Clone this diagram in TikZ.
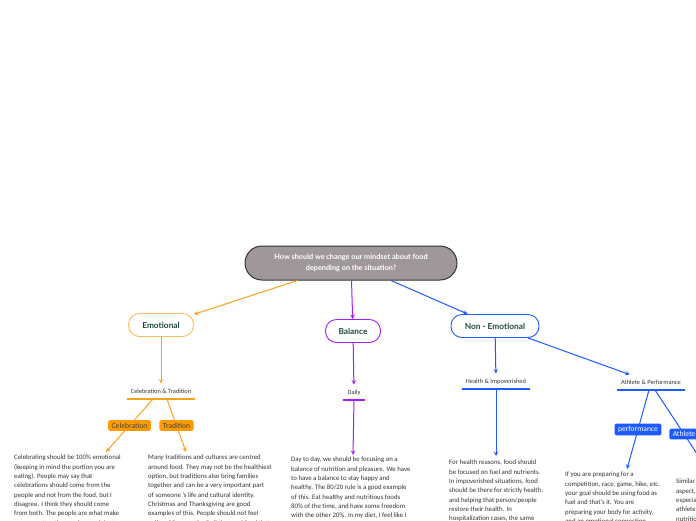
\documentclass[tikz,border=0pt]{standalone}
\usepackage{fontspec}
\setmainfont{Carlito}
\newfontfamily\headfont{Lato}
\usetikzlibrary{positioning,calc}
\definecolor{emoorange}{HTML}{F9A11B}
\definecolor{emolight}{HTML}{FFBE5C}
\definecolor{boxorange}{HTML}{FF9A00}
\definecolor{balpurple}{HTML}{A81CF5}
\definecolor{nonblue}{HTML}{1D5BFF}
\definecolor{rootgrey}{HTML}{A09898}
\definecolor{headgreen}{HTML}{1E4D3B}
\definecolor{bodygrey}{HTML}{333333}

\begin{document}
\begin{tikzpicture}[x=1pt,y=-1pt,>=stealth,
  topic/.style={draw,line width=0.9pt,fill=white,rounded corners=11pt,minimum height=23pt,inner sep=0pt,font=\headfont\bfseries\fontsize{8.3}{10}\selectfont,text=headgreen},
  sub/.style={anchor=south,minimum height=15pt,inner xsep=4pt,font=\fontsize{6.4}{7}\selectfont,text=bodygrey},
  tag/.style={rounded corners=1.5pt,inner xsep=3.5pt,inner ysep=2.6pt,font=\fontsize{7.6}{8}\selectfont},
  body/.style={anchor=north west,inner sep=0pt,align=left,font=\fontsize{6.8}{9.3}\selectfont,text=bodygrey},
  link/.style={line width=1pt},
  underl/.style={line width=1.4pt}]

\useasboundingbox (0,0) rectangle (696,520);
\clip (0,0) rectangle (696,520);

% Central topic
\node[draw=black!80,line width=1pt,fill=rootgrey,rounded corners=17pt,minimum width=212pt,minimum height=34pt,align=center,text=white,font=\headfont\bfseries\fontsize{7.3}{11}\selectfont] (root) at (351,263) {How should we change our mindset about food\\depending on the situation?};

% Main topics
\node[topic,draw=emolight,minimum width=65pt] (emo) at (161,325) {Emotional};
\node[topic,draw=balpurple,minimum width=55pt] (bal) at (353,331) {Balance};
\node[topic,draw=nonblue,minimum width=88pt] (nonemo) at (495,326) {Non - Emotional};

\draw[link,emoorange,->] (root) -- (emo);
\draw[link,balpurple,->] (root) -- (bal);
\draw[link,nonblue,->] (root) -- (nonemo);

% Subtopics
\node[sub] (ct) at (161,399) {Celebration \& Tradition};
\node[sub] (daily) at (354,400) {Daily};
\node[sub] (health) at (496,389) {Health \& Impoverished};
\node[sub] (ap) at (651,390) {Athlete \& Performance};

\draw[underl,emoorange] (ct.south west) -- (ct.south east);
\draw[underl,balpurple] (daily.south west) -- (daily.south east);
\draw[underl,nonblue] (health.south west) -- (health.south east);
\draw[underl,nonblue] (ap.south west) -- (ap.south east);

\draw[link,emoorange,->] (emo) -- (ct);
\draw[link,balpurple,->] (bal) -- (daily);
\draw[link,nonblue,->] (nonemo) -- (health);
\draw[link,nonblue,->] (nonemo) -- (ap);

% Ends of the labelled links
\coordinate (celend) at (106,452);
\coordinate (tradend) at (186,452);
\coordinate (dayend) at (353,455);
\coordinate (healthend) at (496,456);
\coordinate (perfend) at (627,469);
\coordinate (athend) at (713,478);

\draw[link,emoorange,->] ([xshift=-8pt]ct.south) -- node[tag,fill=boxorange,text=black!75] (celtag) {Celebration} (celend);
\draw[link,emoorange,->] ([xshift=6pt]ct.south) -- node[tag,fill=boxorange,text=black!75] (tradtag) {Tradition} (tradend);
\draw[link,balpurple,->] (daily.south) -- (dayend);
\draw[link,nonblue,->] (health.south) -- (healthend);
\draw[link,nonblue,->] ([xshift=-2pt]ap.south) -- node[tag,fill=nonblue,text=white] (perftag) {performance} (perfend);
\draw[link,nonblue,->] ([xshift=4pt]ap.south) -- node[tag,fill=nonblue,text=white] (athtag) {Athlete} (athend);

% Notes
\node[body] (celtxt) at (14,455) {Celebrating should be 100\% emotional\\(keeping in mind the portion you are\\eating). People may say that\\celebrations should come from the\\people and not from the food, but I\\disagree. I think they should come\\from both. The people are what make\\you come together, and you celebrate};
\node[body] (tradtxt) at (148,455) {Many traditions and cultures are centred\\around food. They may not be the healthiest\\option, but traditions also bring families\\together and can be a very important part\\of someone 's life and cultural identity.\\Christmas and Thanksgiving are good\\examples of this. People should not feel\\guilty of ``over eating'' all the good food that};
\node[body] (daytxt) at (291,457) {Day to day, we should be focusing on a\\balance of nutrition and pleasure. We have\\to have a balance to stay happy and\\healthy. The 80/20 rule is a good example\\of this. Eat healthy and nutritious foods\\80\% of the time, and have some freedom\\with the other 20\%. In my diet, I feel like I};
\node[body] (healthtxt) at (449,460) {For health reasons, food should\\be focused on fuel and nutrients.\\In impoverished situations, food\\should be there for strictly health,\\and helping that person/people\\restore their health. In\\hospitalization cases, the same};
\node[body] (perftxt) at (565,472) {If you are preparing for a\\competition, race, game, hike, etc.\\your goal should be using food as\\fuel and that's it. You are\\preparing your body for activity,\\and an emotional connection};
\node[body] (athtxt) at (676,479) {Similar\\aspect,\\especia\\athlete\\nutritio};
\end{tikzpicture}
\end{document}
